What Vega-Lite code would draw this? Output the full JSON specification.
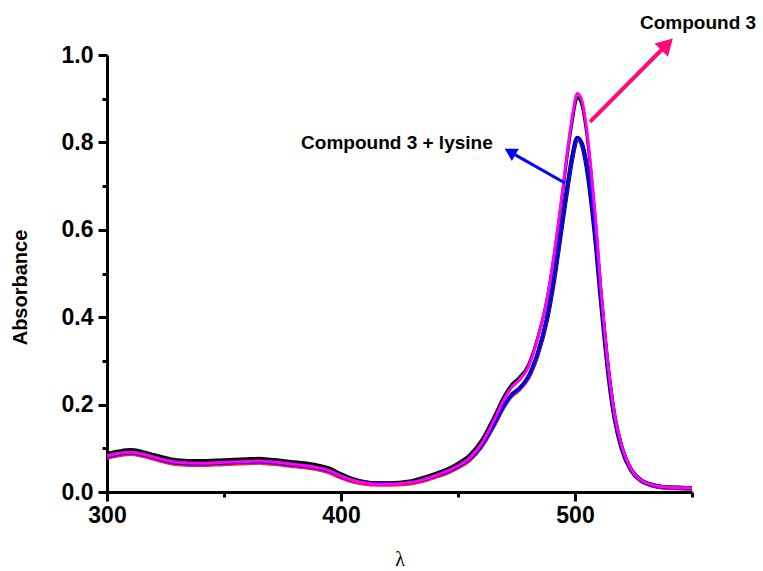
{
  "$schema": "https://vega.github.io/schema/vega-lite/v6.json",
  "width": 585,
  "height": 437,
  "autosize": "none",
  "padding": {"left": 107, "top": 55, "right": 71, "bottom": 79},
  "background": "white",
  "config": {"view": {"stroke": null}},
  "datasets": {
    "curves": [
      {"x":300,"y":0.083,"s":"M"},{"x":305,"y":0.088,"s":"M"},{"x":310,"y":0.091,"s":"M"},{"x":315,"y":0.087,"s":"M"},{"x":320,"y":0.080,"s":"M"},{"x":325,"y":0.073,"s":"M"},{"x":330,"y":0.068,"s":"M"},{"x":340,"y":0.066,"s":"M"},{"x":350,"y":0.068,"s":"M"},{"x":360,"y":0.070,"s":"M"},{"x":365,"y":0.071,"s":"M"},{"x":370,"y":0.069,"s":"M"},{"x":380,"y":0.063,"s":"M"},{"x":390,"y":0.056,"s":"M"},{"x":395,"y":0.049,"s":"M"},{"x":400,"y":0.037,"s":"M"},{"x":405,"y":0.027,"s":"M"},{"x":410,"y":0.021,"s":"M"},{"x":415,"y":0.018,"s":"M"},{"x":420,"y":0.018,"s":"M"},{"x":430,"y":0.022,"s":"M"},{"x":440,"y":0.037,"s":"M"},{"x":445,"y":0.047,"s":"M"},{"x":450,"y":0.060,"s":"M"},{"x":455,"y":0.078,"s":"M"},{"x":460,"y":0.110,"s":"M"},{"x":465,"y":0.160,"s":"M"},{"x":470,"y":0.215,"s":"M"},{"x":473,"y":0.240,"s":"M"},{"x":476,"y":0.255,"s":"M"},{"x":480,"y":0.285,"s":"M"},{"x":484,"y":0.350,"s":"M"},{"x":488,"y":0.440,"s":"M"},{"x":491,"y":0.540,"s":"M"},{"x":494,"y":0.660,"s":"M"},{"x":497,"y":0.790,"s":"M"},{"x":499,"y":0.865,"s":"M"},{"x":501,"y":0.912,"s":"M"},{"x":503,"y":0.895,"s":"M"},{"x":505,"y":0.830,"s":"M"},{"x":507,"y":0.730,"s":"M"},{"x":509,"y":0.610,"s":"M"},{"x":511,"y":0.470,"s":"M"},{"x":513,"y":0.350,"s":"M"},{"x":515,"y":0.250,"s":"M"},{"x":517,"y":0.175,"s":"M"},{"x":520,"y":0.105,"s":"M"},{"x":524,"y":0.052,"s":"M"},{"x":528,"y":0.028,"s":"M"},{"x":532,"y":0.018,"s":"M"},{"x":536,"y":0.013,"s":"M"},{"x":540,"y":0.011,"s":"M"},{"x":545,"y":0.010,"s":"M"},{"x":550,"y":0.009,"s":"M"},

      {"x":300,"y":0.089,"s":"K1"},{"x":305,"y":0.094,"s":"K1"},{"x":310,"y":0.097,"s":"K1"},{"x":315,"y":0.093,"s":"K1"},{"x":320,"y":0.086,"s":"K1"},{"x":325,"y":0.079,"s":"K1"},{"x":330,"y":0.074,"s":"K1"},{"x":340,"y":0.072,"s":"K1"},{"x":350,"y":0.074,"s":"K1"},{"x":360,"y":0.076,"s":"K1"},{"x":365,"y":0.077,"s":"K1"},{"x":370,"y":0.075,"s":"K1"},{"x":380,"y":0.069,"s":"K1"},{"x":390,"y":0.062,"s":"K1"},{"x":395,"y":0.055,"s":"K1"},{"x":400,"y":0.042,"s":"K1"},{"x":405,"y":0.031,"s":"K1"},{"x":410,"y":0.024,"s":"K1"},{"x":415,"y":0.021,"s":"K1"},{"x":420,"y":0.021,"s":"K1"},{"x":430,"y":0.026,"s":"K1"},{"x":440,"y":0.042,"s":"K1"},{"x":445,"y":0.052,"s":"K1"},{"x":450,"y":0.066,"s":"K1"},{"x":455,"y":0.085,"s":"K1"},{"x":460,"y":0.118,"s":"K1"},{"x":465,"y":0.168,"s":"K1"},{"x":470,"y":0.222,"s":"K1"},{"x":473,"y":0.246,"s":"K1"},{"x":476,"y":0.261,"s":"K1"},{"x":480,"y":0.290,"s":"K1"},{"x":484,"y":0.352,"s":"K1"},{"x":488,"y":0.440,"s":"K1"},{"x":491,"y":0.538,"s":"K1"},{"x":494,"y":0.655,"s":"K1"},{"x":497,"y":0.782,"s":"K1"},{"x":499,"y":0.855,"s":"K1"},{"x":501,"y":0.903,"s":"K1"},{"x":503,"y":0.885,"s":"K1"},{"x":505,"y":0.820,"s":"K1"},{"x":507,"y":0.722,"s":"K1"},{"x":509,"y":0.602,"s":"K1"},{"x":511,"y":0.463,"s":"K1"},{"x":513,"y":0.344,"s":"K1"},{"x":515,"y":0.246,"s":"K1"},{"x":517,"y":0.172,"s":"K1"},{"x":520,"y":0.104,"s":"K1"},{"x":524,"y":0.052,"s":"K1"},{"x":528,"y":0.029,"s":"K1"},{"x":532,"y":0.019,"s":"K1"},{"x":536,"y":0.014,"s":"K1"},{"x":540,"y":0.012,"s":"K1"},{"x":545,"y":0.011,"s":"K1"},{"x":550,"y":0.010,"s":"K1"},

      {"x":300,"y":0.081,"s":"B"},{"x":305,"y":0.086,"s":"B"},{"x":310,"y":0.089,"s":"B"},{"x":315,"y":0.085,"s":"B"},{"x":320,"y":0.078,"s":"B"},{"x":325,"y":0.071,"s":"B"},{"x":330,"y":0.066,"s":"B"},{"x":340,"y":0.064,"s":"B"},{"x":350,"y":0.066,"s":"B"},{"x":360,"y":0.068,"s":"B"},{"x":365,"y":0.069,"s":"B"},{"x":370,"y":0.067,"s":"B"},{"x":380,"y":0.061,"s":"B"},{"x":390,"y":0.054,"s":"B"},{"x":395,"y":0.047,"s":"B"},{"x":400,"y":0.035,"s":"B"},{"x":405,"y":0.026,"s":"B"},{"x":410,"y":0.021,"s":"B"},{"x":415,"y":0.019,"s":"B"},{"x":420,"y":0.019,"s":"B"},{"x":430,"y":0.022,"s":"B"},{"x":440,"y":0.036,"s":"B"},{"x":445,"y":0.045,"s":"B"},{"x":450,"y":0.058,"s":"B"},{"x":455,"y":0.075,"s":"B"},{"x":460,"y":0.105,"s":"B"},{"x":465,"y":0.150,"s":"B"},{"x":470,"y":0.200,"s":"B"},{"x":473,"y":0.222,"s":"B"},{"x":476,"y":0.235,"s":"B"},{"x":480,"y":0.262,"s":"B"},{"x":484,"y":0.315,"s":"B"},{"x":488,"y":0.395,"s":"B"},{"x":491,"y":0.485,"s":"B"},{"x":494,"y":0.595,"s":"B"},{"x":497,"y":0.705,"s":"B"},{"x":499,"y":0.770,"s":"B"},{"x":501,"y":0.810,"s":"B"},{"x":503,"y":0.795,"s":"B"},{"x":505,"y":0.745,"s":"B"},{"x":507,"y":0.665,"s":"B"},{"x":509,"y":0.565,"s":"B"},{"x":511,"y":0.445,"s":"B"},{"x":513,"y":0.335,"s":"B"},{"x":515,"y":0.240,"s":"B"},{"x":517,"y":0.168,"s":"B"},{"x":520,"y":0.100,"s":"B"},{"x":524,"y":0.050,"s":"B"},{"x":528,"y":0.027,"s":"B"},{"x":532,"y":0.017,"s":"B"},{"x":536,"y":0.012,"s":"B"},{"x":540,"y":0.010,"s":"B"},{"x":545,"y":0.009,"s":"B"},{"x":550,"y":0.008,"s":"B"},

      {"x":300,"y":0.077,"s":"R"},{"x":305,"y":0.082,"s":"R"},{"x":310,"y":0.085,"s":"R"},{"x":315,"y":0.081,"s":"R"},{"x":320,"y":0.074,"s":"R"},{"x":325,"y":0.067,"s":"R"},{"x":330,"y":0.062,"s":"R"},{"x":340,"y":0.060,"s":"R"},{"x":350,"y":0.062,"s":"R"},{"x":360,"y":0.064,"s":"R"},{"x":365,"y":0.065,"s":"R"},{"x":370,"y":0.063,"s":"R"},{"x":380,"y":0.057,"s":"R"},{"x":390,"y":0.050,"s":"R"},{"x":395,"y":0.043,"s":"R"},{"x":400,"y":0.031,"s":"R"},{"x":405,"y":0.022,"s":"R"},{"x":410,"y":0.017,"s":"R"},{"x":415,"y":0.015,"s":"R"},{"x":420,"y":0.015,"s":"R"},{"x":430,"y":0.018,"s":"R"},{"x":440,"y":0.032,"s":"R"},{"x":445,"y":0.041,"s":"R"},{"x":450,"y":0.054,"s":"R"},{"x":455,"y":0.071,"s":"R"},{"x":460,"y":0.101,"s":"R"},{"x":465,"y":0.146,"s":"R"},{"x":470,"y":0.196,"s":"R"},{"x":473,"y":0.218,"s":"R"},{"x":476,"y":0.231,"s":"R"},{"x":480,"y":0.258,"s":"R"},{"x":484,"y":0.311,"s":"R"},{"x":488,"y":0.391,"s":"R"},{"x":491,"y":0.481,"s":"R"},{"x":494,"y":0.591,"s":"R"},{"x":497,"y":0.701,"s":"R"},{"x":499,"y":0.766,"s":"R"},{"x":501,"y":0.806,"s":"R"},{"x":503,"y":0.793,"s":"R"},{"x":505,"y":0.745,"s":"R"},{"x":507,"y":0.668,"s":"R"},{"x":509,"y":0.570,"s":"R"},{"x":511,"y":0.452,"s":"R"},{"x":513,"y":0.342,"s":"R"},{"x":515,"y":0.246,"s":"R"},{"x":517,"y":0.172,"s":"R"},{"x":520,"y":0.102,"s":"R"},{"x":524,"y":0.049,"s":"R"},{"x":528,"y":0.025,"s":"R"},{"x":532,"y":0.015,"s":"R"},{"x":536,"y":0.010,"s":"R"},{"x":540,"y":0.008,"s":"R"},{"x":545,"y":0.007,"s":"R"},{"x":550,"y":0.006,"s":"R"}
    ],
    "arrows": [
      {"name":"pink","x":506.4,"y":0.847,"x2":538.5,"y2":1.02,"angle":44.7},
      {"name":"blue","x":495.7,"y":0.707,"x2":473.0,"y2":0.776,"angle":299.5}
    ],
    "labels": [
      {"label":"Compound 3","x":552.6,"y":1.073},
      {"label":"Compound 3 + lysine","x":423.9,"y":0.799}
    ]
  },
  "layer": [
    {
      "data": {"name": "curves"},
      "transform": [{"filter": "datum.s == 'K1'"}],
      "mark": {"type": "line", "color": "#000000", "strokeWidth": 3, "interpolate": "monotone"},
      "encoding": {
        "x": {"field": "x", "type": "quantitative", "title": "λ",
          "scale": {"domain": [300, 550], "nice": false, "zero": false},
          "axis": {
            "title": "λ",
            "values": [300, 350, 400, 450, 500, 550],
            "labelExpr": "datum.value % 100 == 0 ? datum.value : ''",
            "tickSize": {"condition": {"test": "datum.value % 100 == 0", "value": 9}, "value": 5},
            "tickWidth": 3, "tickColor": "#000000",
            "domainWidth": 3, "domainColor": "#000000",
            "grid": false,
            "labelFont": "Liberation Sans", "labelFontWeight": "bold", "labelFontSize": 23, "labelColor": "#000000",
            "labelPadding": 3, "labelFlush": false, "labelOverlap": false,
            "titleFont": "Liberation Serif", "titleFontWeight": "normal", "titleFontSize": 20, "titleColor": "#000000",
            "titleY": 67, "titleBaseline": "middle"
          }
        },
        "y": {"field": "y", "type": "quantitative", "title": "Absorbance",
          "scale": {"domain": [0, 1], "nice": false},
          "axis": {
            "title": "Absorbance",
            "values": [0, 0.1, 0.2, 0.3, 0.4, 0.5, 0.6, 0.7, 0.8, 0.9, 1.0],
            "labelExpr": "round(datum.value * 10) % 2 == 0 ? format(datum.value, '.1f') : ''",
            "tickSize": {"condition": {"test": "round(datum.value * 10) % 2 == 0", "value": 9}, "value": 5},
            "tickWidth": 3, "tickColor": "#000000",
            "domainWidth": 3, "domainColor": "#000000",
            "grid": false,
            "labelFont": "Liberation Sans", "labelFontWeight": "bold", "labelFontSize": 23, "labelColor": "#000000",
            "labelPadding": 5, "labelFlush": false, "labelOverlap": false,
            "titleFont": "Liberation Sans", "titleFontWeight": "bold", "titleFontSize": 20, "titleColor": "#000000",
            "titleAngle": -90, "titleX": -87, "titleY": 232, "titleAlign": "center", "titleBaseline": "middle"
          }
        }
      }
    },
    {
      "data": {"name": "curves"},
      "transform": [{"filter": "datum.s == 'B'"}],
      "mark": {"type": "line", "color": "#000000", "strokeWidth": 4.5, "interpolate": "monotone"},
      "encoding": {"x": {"field": "x", "type": "quantitative", "title": "λ"}, "y": {"field": "y", "type": "quantitative", "title": "Absorbance"}}
    },
    {
      "data": {"name": "curves"},
      "transform": [{"filter": "datum.s == 'R'"}],
      "mark": {"type": "line", "color": "#ff2020", "strokeWidth": 2.5, "interpolate": "monotone"},
      "encoding": {"x": {"field": "x", "type": "quantitative", "title": "λ"}, "y": {"field": "y", "type": "quantitative", "title": "Absorbance"}}
    },
    {
      "data": {"name": "curves"},
      "transform": [{"filter": "datum.s == 'B'"}],
      "mark": {"type": "line", "color": "#0000ff", "strokeWidth": 3, "interpolate": "monotone"},
      "encoding": {"x": {"field": "x", "type": "quantitative", "title": "λ"}, "y": {"field": "y", "type": "quantitative", "title": "Absorbance"}}
    },
    {
      "data": {"name": "curves"},
      "transform": [{"filter": "datum.s == 'M'"}],
      "mark": {"type": "line", "color": "#ff00ff", "strokeWidth": 3, "interpolate": "monotone"},
      "encoding": {"x": {"field": "x", "type": "quantitative", "title": "λ"}, "y": {"field": "y", "type": "quantitative", "title": "Absorbance"}}
    },
    {
      "data": {"name": "arrows"},
      "transform": [{"filter": "datum.name == 'pink'"}],
      "mark": {"type": "rule", "color": "#ff0a78", "strokeWidth": 4},
      "encoding": {
        "x": {"field": "x", "type": "quantitative", "title": "λ"}, "y": {"field": "y", "type": "quantitative", "title": "Absorbance"},
        "x2": {"field": "x2"}, "y2": {"field": "y2"}
      }
    },
    {
      "data": {"name": "arrows"},
      "transform": [{"filter": "datum.name == 'pink'"}],
      "mark": {"type": "point", "shape": "triangle", "filled": true, "color": "#ff0a78", "size": 360, "opacity": 1},
      "encoding": {
        "x": {"field": "x2", "type": "quantitative", "title": "λ"}, "y": {"field": "y2", "type": "quantitative", "title": "Absorbance"},
        "angle": {"field": "angle", "type": "quantitative", "scale": null}
      }
    },
    {
      "data": {"name": "arrows"},
      "transform": [{"filter": "datum.name == 'blue'"}],
      "mark": {"type": "rule", "color": "#0000ff", "strokeWidth": 3},
      "encoding": {
        "x": {"field": "x", "type": "quantitative", "title": "λ"}, "y": {"field": "y", "type": "quantitative", "title": "Absorbance"},
        "x2": {"field": "x2"}, "y2": {"field": "y2"}
      }
    },
    {
      "data": {"name": "arrows"},
      "transform": [{"filter": "datum.name == 'blue'"}],
      "mark": {"type": "point", "shape": "triangle", "filled": true, "color": "#0000ff", "size": 200, "opacity": 1},
      "encoding": {
        "x": {"field": "x2", "type": "quantitative", "title": "λ"}, "y": {"field": "y2", "type": "quantitative", "title": "Absorbance"},
        "angle": {"field": "angle", "type": "quantitative", "scale": null}
      }
    },
    {
      "data": {"name": "labels"},
      "mark": {"type": "text", "font": "Liberation Sans", "fontWeight": "bold", "fontSize": 19, "color": "#000000", "align": "center", "baseline": "middle"},
      "encoding": {
        "x": {"field": "x", "type": "quantitative", "title": "λ"}, "y": {"field": "y", "type": "quantitative", "title": "Absorbance"},
        "text": {"field": "label"}
      }
    }
  ]
}
